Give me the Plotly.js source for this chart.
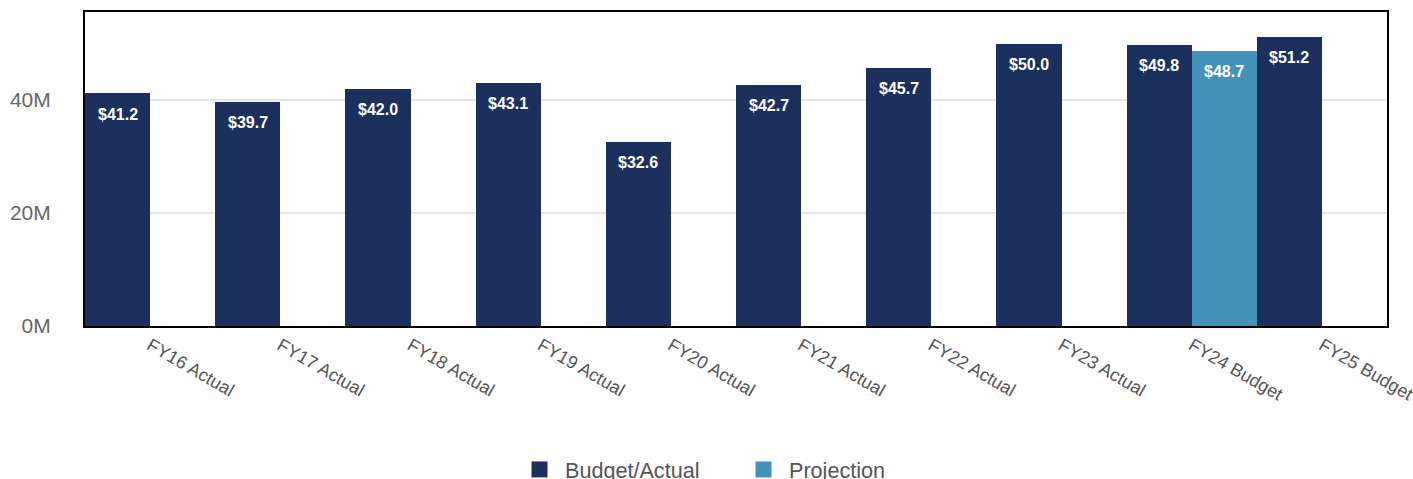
<!DOCTYPE html>
<html>
<head>
<meta charset="utf-8">
<script src="https://cdn.plot.ly/plotly-3.0.1.min.js"></script>
<style>html,body{margin:0;padding:0;background:#fff;}#chart{width:1413px;height:479px;}</style>
</head>
<body>
<div id="chart"></div>
<script>
var categories = ["FY16 Actual","FY17 Actual","FY18 Actual","FY19 Actual","FY20 Actual","FY21 Actual","FY22 Actual","FY23 Actual","FY24 Budget","FY25 Budget"];
var budgetActual = [41.2, 39.7, 42.0, 43.1, 32.6, 42.7, 45.7, 50.0, 49.8, 51.2];
var projection = [null, null, null, null, null, null, null, null, 48.7, null];
var seriesNames = ["Budget/Actual", "Projection"];
var seriesColors = ["#1b305d", "#4592b9"];

var traces = [
  {type:"bar", name:seriesNames[0], x:categories, y:budgetActual, marker:{color:seriesColors[0]}, showlegend:false, legendgroup:"a"},
  {type:"bar", name:seriesNames[1], x:categories, y:projection, marker:{color:seriesColors[1]}, showlegend:false, legendgroup:"b"},
  // legend entries (large square keys)
  {type:"scatter", mode:"markers", name:seriesNames[0], x:[categories[0]], y:[null], legendgroup:"a",
   marker:{symbol:"square", size:16, color:seriesColors[0]}},
  {type:"scatter", mode:"markers", name:seriesNames[1], x:[categories[0]], y:[null], legendgroup:"b",
   marker:{symbol:"square", size:16, color:seriesColors[1]}}
];

var annotations = [];
[budgetActual, projection].forEach(function(vals, s){
  vals.forEach(function(v, i){
    if (v === null) return;
    annotations.push({
      x: i + (s === 0 ? -0.25 : 0.25), y: v, xref:"x", yref:"y",
      text: "<b>$" + v.toFixed(1) + "</b>", showarrow:false,
      yanchor:"middle", yshift:-21,
      font:{family:"Liberation Sans, Arial, sans-serif", size:16, color:"#ffffff"}
    });
  });
});

var layout = {
  width:1413, height:479,
  margin:{l:85, r:26, t:12, b:153},
  paper_bgcolor:"#ffffff", plot_bgcolor:"#ffffff",
  font:{family:"Liberation Sans, Arial, sans-serif", color:"#666666"},
  barmode:"group", bargap:0, bargroupgap:0,
  showlegend:true,
  legend:{orientation:"h", xref:"container", x:514/1413, xanchor:"left", yref:"container", y:0.019, yanchor:"middle",
          font:{size:21.6, color:"#555555"}, itemwidth:41, entrywidth:168, entrywidthmode:"pixels",
          traceorder:"normal", itemsizing:"trace"},
  xaxis:{type:"category", range:[-0.5, categories.length - 0.5], tickangle:30, tickfont:{size:18, color:"#555555"},
         showline:true, linecolor:"#000000", linewidth:2, mirror:true, showgrid:false, ticks:"", fixedrange:true},
  yaxis:{range:[0,55.6], dtick:20, tick0:0, ticksuffix:"M", tickfont:{size:21, color:"#666666"},
         showline:true, linecolor:"#000000", linewidth:2, mirror:true,
         showgrid:true, gridcolor:"#e6e6e6", gridwidth:1.5, zeroline:false, ticks:"", ticklabelstandoff:28, fixedrange:true},
  annotations:annotations
};

Plotly.newPlot("chart", traces, layout, {displayModeBar:false, staticPlot:true});
</script>
</body>
</html>
